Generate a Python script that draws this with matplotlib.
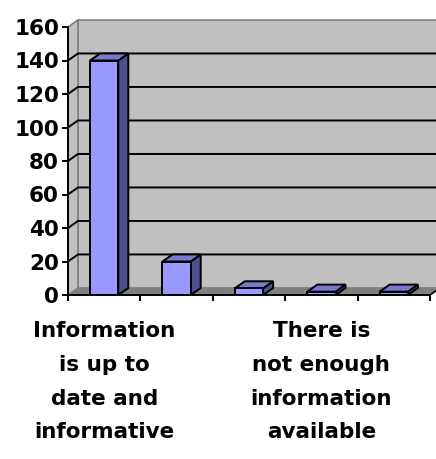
import matplotlib.pyplot as plt
from matplotlib.patches import Polygon
import numpy as np

plt.rcParams['font.family'] = ['DejaVu Sans']
plt.rcParams['font.weight'] = 'bold'

categories = [
    "Information\nis up to\ndate and\ninformative",
    "",
    "",
    "There is\nnot enough\ninformation\navailable",
    "",
]
counts = [140, 20, 4, 2, 2]
y_ticks = [0, 20, 40, 60, 80, 100, 120, 140, 160]

front_color = "#9999ff"
side_color = "#50508c"
top_color = "#7a7acc"
wall_color = "#c0c0c0"
floor_color = "#808080"

fig = plt.figure(figsize=(4.36, 4.59), dpi=100)
ax = fig.add_axes([68 / 436, 164 / 459, 362 / 436, 268 / 459])

n = len(counts)
x = np.arange(n)
x0, x1 = -0.5, n - 0.5
ymax = 160
# depth of the fake 3d box, in data units
dx, dy = 0.138, 4.2

ax.set_xlim(x0, x1)
ax.set_ylim(0, ymax)

# walls and floor
ax.add_patch(Polygon([(x0 + dx, dy), (x1 + dx, dy), (x1 + dx, ymax + dy), (x0 + dx, ymax + dy)],
                     closed=True, facecolor=wall_color, edgecolor="#808080", lw=1.2,
                     clip_on=False, zorder=0))
ax.add_patch(Polygon([(x0, 0), (x0 + dx, dy), (x0 + dx, ymax + dy), (x0, ymax)],
                     closed=True, facecolor=wall_color, edgecolor="#808080", lw=1.2,
                     clip_on=False, zorder=0))
ax.add_patch(Polygon([(x0, 0), (x1, 0), (x1 + dx, dy), (x0 + dx, dy)],
                     closed=True, facecolor=floor_color, edgecolor="none",
                     clip_on=False, zorder=1))
ax.plot([x1, x1 + dx], [0, dy], color="black", lw=1.2, clip_on=False, zorder=2)

# gridlines run along the side wall then across the back wall
for y in y_ticks[1:-1]:
    ax.plot([x0, x0 + dx, x1 + dx], [y, y + dy, y + dy], color="black", lw=1.4,
            clip_on=False, zorder=2)

width = 0.39
ax.bar(x, counts, width=width, color=front_color, edgecolor="black", lw=1.4, zorder=6)
for xi, v in zip(x, counts):
    left, right = xi - width / 2, xi + width / 2
    ax.add_patch(Polygon([(right, 0), (right + dx, dy), (right + dx, v + dy), (right, v)],
                         closed=True, facecolor=side_color, edgecolor="black", lw=1.4,
                         clip_on=False, zorder=5))
    ax.add_patch(Polygon([(left, v), (right, v), (right + dx, v + dy), (left + dx, v + dy)],
                         closed=True, facecolor=top_color, edgecolor="black", lw=1.4,
                         clip_on=False, zorder=5))

for side in ["top", "right"]:
    ax.spines[side].set_visible(False)
for side in ["left", "bottom"]:
    ax.spines[side].set_linewidth(1.4)
    ax.spines[side].set_zorder(7)

ax.set_yticks(y_ticks)
ax.tick_params(axis="y", labelsize=15.5, length=4.5, width=1.4, pad=2)
ax.set_xticks(np.arange(n + 1) - 0.5)
ax.set_xticklabels([])
ax.tick_params(axis="x", which="major", length=4, width=1.4)
ax.set_xticks(x, minor=True)
ax.set_xticklabels(categories, minor=True, fontsize=15.5, linespacing=1.85, va="top")
ax.tick_params(axis="x", which="minor", length=0, pad=19)
ax.set_facecolor("none")

fig.savefig("out.png", dpi=100)
